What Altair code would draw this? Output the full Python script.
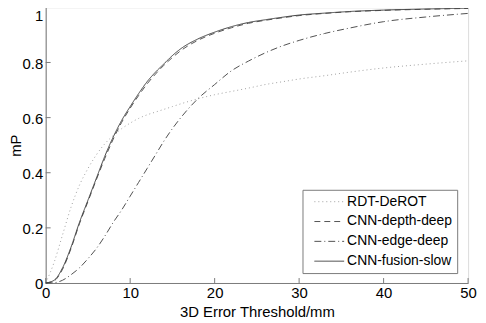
import altair as alt
import pandas as pd

x_vals = [0, 1, 2, 3, 4, 5, 6, 7, 8, 9, 10, 11, 12, 13, 14, 15, 16, 18, 20, 22, 24, 26, 28, 30, 33, 36, 40, 45, 50]
rdt_derot = [0, 0.075, 0.175, 0.275, 0.355, 0.415, 0.465, 0.505, 0.535, 0.56, 0.58, 0.597, 0.61, 0.62, 0.63, 0.64, 0.65,
             0.668, 0.683, 0.695, 0.707, 0.72, 0.73, 0.74, 0.752, 0.765, 0.78, 0.794, 0.806]
cnn_depth = [0, 0.008, 0.05, 0.125, 0.215, 0.295, 0.375, 0.452, 0.522, 0.583, 0.634, 0.68, 0.722, 0.758, 0.79, 0.818,
             0.843, 0.88, 0.906, 0.926, 0.942, 0.953, 0.962, 0.97, 0.978, 0.984, 0.989, 0.993, 0.996]
cnn_edge = [0, 0.001, 0.01, 0.03, 0.055, 0.088, 0.125, 0.17, 0.22, 0.265, 0.315, 0.365, 0.415, 0.465, 0.515, 0.56,
            0.60, 0.668, 0.72, 0.77, 0.805, 0.835, 0.86, 0.88, 0.905, 0.925, 0.948, 0.965, 0.978]
cnn_fusion = [0, 0.01, 0.055, 0.13, 0.22, 0.30, 0.38, 0.46, 0.53, 0.59, 0.64, 0.687, 0.73, 0.765, 0.795, 0.825,
              0.85, 0.885, 0.91, 0.93, 0.945, 0.955, 0.964, 0.972, 0.979, 0.985, 0.99, 0.994, 0.997]

series_names = ["RDT-DeROT", "CNN-depth-deep", "CNN-edge-deep", "CNN-fusion-slow"]
series_vals = [rdt_derot, cnn_depth, cnn_edge, cnn_fusion]
series_colors = ["#a0a0a0", "#555555", "#505050", "#404040"]
series_dash = [[1, 3], [6, 4], [7, 3, 1, 3], [1, 0]]

x_ticks = [0, 10, 20, 30, 40, 50]
y_ticks = [0, 0.2, 0.4, 0.6, 0.8, 1]

rows = []
for name, vals in zip(series_names, series_vals):
    for xv, yv in zip(x_vals, vals):
        rows.append({"x": xv, "y": yv, "series": name})
df = pd.DataFrame(rows)

W, H = 426, 278
FONT = "Liberation Sans"
AX = "#7a7a7a"

xscale = alt.Scale(domain=[0, 50], nice=False, zero=False)
yscale = alt.Scale(domain=[0, 1], nice=False)

lines = alt.Chart(df).mark_line(strokeWidth=1, interpolate="monotone").encode(
    x=alt.X("x:Q", scale=xscale, axis=alt.Axis(
        title="3D Error Threshold/mm", values=x_ticks, ticks=False, labelPadding=3,
        domainColor=AX, grid=False, labelFontSize=15, titleFontSize=15,
        titleFontWeight="normal", titleY=34, titleBaseline="alphabetic",
        labelColor="#000", titleColor="#000", labelFlush=False)),
    y=alt.Y("y:Q", scale=yscale, axis=alt.Axis(
        title="mP", values=y_ticks, ticks=False, labelPadding=3,
        labelOffset={"condition": {"test": "datum.value == 1", "value": 1}, "value": 1},
        labelBaseline={"condition": {"test": "datum.value == 1", "value": "top"}, "value": "middle"},
        domainColor=AX, grid=False, labelFontSize=15, titleFontSize=15,
        titleFontWeight="normal", titleX=-30, titleY=H / 2, titleBaseline="middle",
        labelColor="#000", titleColor="#000", format="~g")),
    color=alt.Color("series:N", scale=alt.Scale(domain=series_names, range=series_colors),
                    legend=alt.Legend(title=None, orient="none", legendX=259, legendY=184,
                                      symbolType="M0,0H6", symbolSize=100, symbolStrokeWidth=1,
                                      labelFontSize=14, labelFont=FONT, labelColor="#000",
                                      labelOffset=26, padding=5, rowPadding=6,
                                      labelExpr="datum.label + '  '",
                                      strokeColor=AX, fillColor="white", cornerRadius=0)),
    strokeDash=alt.StrokeDash("series:N", scale=alt.Scale(domain=series_names, range=series_dash),
                              legend=None),
    detail="series:N",
)

xt = pd.DataFrame({"t": x_ticks})
yt = pd.DataFrame({"t": y_ticks})
xtick_marks = alt.Chart(xt).mark_rule(color=AX, strokeWidth=1).encode(
    x=alt.X("t:Q", scale=xscale), y=alt.value(H - 5), y2=alt.value(H))
ytick_marks = alt.Chart(yt).mark_rule(color=AX, strokeWidth=1).encode(
    y=alt.Y("t:Q", scale=yscale), x=alt.value(0), x2=alt.value(5))

chart = alt.layer(xtick_marks, ytick_marks, lines).properties(
    width=W, height=H,
    padding={"left": 38, "top": -2, "right": 10, "bottom": 38},
    autosize=alt.AutoSizeParams(type="none"),
).configure_view(stroke=None).configure(font=FONT, background="white")

chart.save("out.html", embed_options={"renderer": "svg", "actions": False})
